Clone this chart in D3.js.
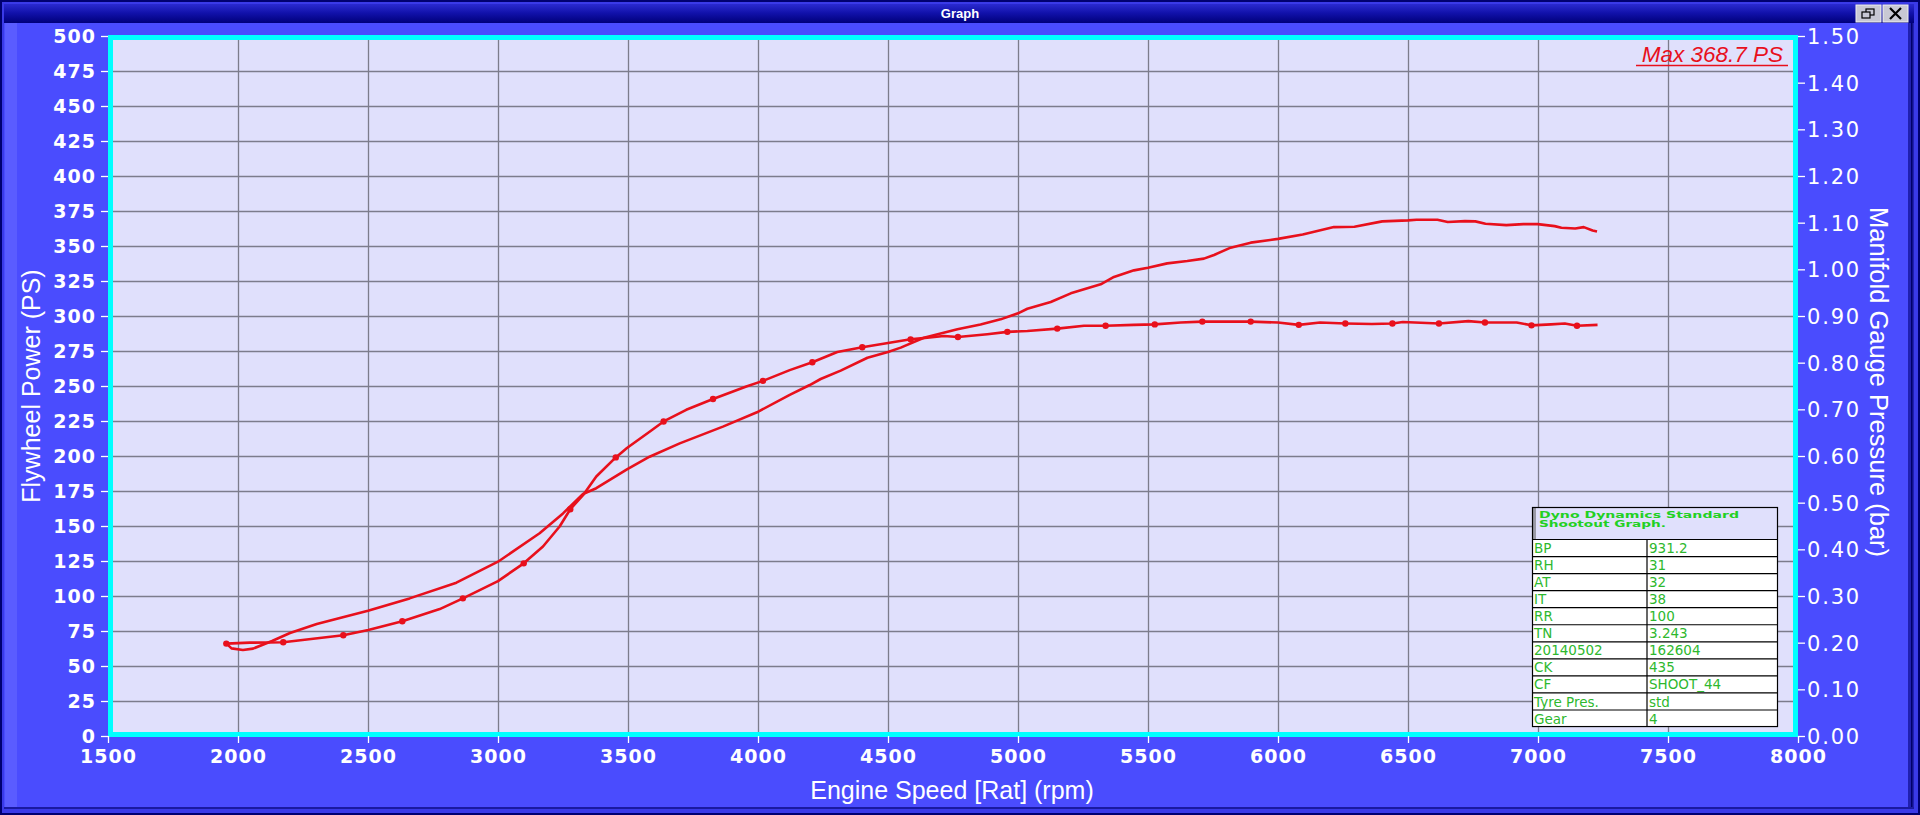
<!DOCTYPE html>
<html>
<head>
<meta charset="utf-8">
<script src="https://cdn.jsdelivr.net/npm/d3@7"></script>
<style>
html,body{margin:0;padding:0;background:#4a4cfe;overflow:hidden;}
svg{display:block;}
</style>
</head>
<body>
<svg id="chart" width="1920" height="815"></svg>
<script>
// ---------- data ----------
const rpmTicks = [1500, 2000, 2500, 3000, 3500, 4000, 4500, 5000, 5500, 6000, 6500, 7000, 7500, 8000];
const psTicks = [0, 25, 50, 75, 100, 125, 150, 175, 200, 225, 250, 275, 300, 325, 350, 375, 400, 425, 450, 475, 500];
const barTicks = [0.0, 0.1, 0.2, 0.3, 0.4, 0.5, 0.6, 0.7, 0.8, 0.9, 1.0, 1.1, 1.2, 1.3, 1.4, 1.5];

// Flywheel power (PS) vs engine speed (rpm)
const powerRpm = [1955, 1975, 2019, 2058, 2131, 2200, 2303, 2392, 2500, 2660, 2840, 3000, 3160, 3250, 3327, 3378, 3496, 3583, 3699, 3865, 3996, 4122, 4199, 4241, 4318, 4421, 4500, 4549, 4638, 4767, 4856, 4933, 5000, 5036, 5126, 5203, 5318, 5369, 5446, 5500, 5574, 5651, 5715, 5754, 5818, 5895, 6000, 6095, 6215, 6294, 6401, 6500, 6533, 6613, 6653, 6719, 6759, 6798, 6878, 6944, 6999, 7064, 7090, 7143, 7176, 7210, 7227];
const powerPS = [66.2, 62.6, 61.4, 62.4, 67.9, 73.6, 80.0, 84.3, 89.5, 98.3, 109.5, 124.5, 144.8, 159.0, 172.9, 177.0, 190.5, 199.5, 209.0, 221.0, 231.2, 243.6, 250.7, 255.0, 261.0, 270.2, 274.3, 277.4, 284.5, 290.5, 294.0, 297.6, 301.9, 305.2, 310.0, 316.2, 322.6, 327.9, 332.6, 334.5, 337.6, 339.3, 341.0, 343.6, 348.8, 352.4, 355.1, 358.2, 363.5, 363.7, 367.6, 368.3, 368.7, 368.7, 367.1, 367.8, 367.6, 365.9, 364.9, 365.6, 365.6, 364.2, 363.0, 362.5, 363.5, 361.1, 360.4];

// Manifold gauge pressure (bar) vs engine speed (rpm)
const boostRpm = [1955, 2046, 2174, 2405, 2501, 2632, 2776, 2865, 3000, 3099, 3173, 3237, 3278, 3327, 3378, 3453, 3496, 3583, 3637, 3724, 3827, 3955, 4019, 4122, 4209, 4305, 4401, 4500, 4587, 4715, 4769, 4882, 4959, 5036, 5151, 5254, 5337, 5446, 5526, 5626, 5709, 5895, 6000, 6080, 6162, 6259, 6361, 6440, 6480, 6619, 6732, 6796, 6918, 6975, 7050, 7103, 7150, 7229];
const boostBar = [0.198, 0.200, 0.201, 0.216, 0.227, 0.246, 0.272, 0.295, 0.332, 0.370, 0.406, 0.449, 0.486, 0.516, 0.556, 0.597, 0.617, 0.652, 0.674, 0.699, 0.722, 0.749, 0.761, 0.784, 0.801, 0.823, 0.833, 0.842, 0.850, 0.857, 0.855, 0.861, 0.866, 0.868, 0.873, 0.879, 0.879, 0.881, 0.882, 0.886, 0.888, 0.888, 0.886, 0.881, 0.886, 0.884, 0.883, 0.884, 0.887, 0.884, 0.889, 0.886, 0.886, 0.880, 0.882, 0.884, 0.879, 0.881];
// sample markers on the pressure trace
const markRpm = [1955, 2174, 2405, 2632, 2865, 3099, 3278, 3453, 3637, 3827, 4019, 4209, 4401, 4587, 4769, 4959, 5151, 5337, 5526, 5709, 5895, 6080, 6259, 6440, 6619, 6796, 6975, 7150];
const markBar = [0.198, 0.201, 0.216, 0.246, 0.295, 0.370, 0.486, 0.597, 0.674, 0.722, 0.761, 0.801, 0.833, 0.850, 0.855, 0.866, 0.873, 0.879, 0.882, 0.888, 0.888, 0.881, 0.884, 0.884, 0.884, 0.886, 0.880, 0.879];

const maxLabel = "Max 368.7 PS";
const tableTitle = ["Dyno Dynamics Standard", "Shootout Graph."];
const tableKeys = ["BP", "RH", "AT", "IT", "RR", "TN", "20140502", "CK", "CF", "Tyre Pres.", "Gear"];
const tableVals = ["931.2", "31", "32", "38", "100", "3.243", "162604", "435", "SHOOT_44", "std", "4"];

// ---------- layout ----------
const W = 1920, H = 815;
const L = 108, R = 1798, T = 36, B = 736;
const svg = d3.select("#chart");

const x = d3.scaleLinear().domain([1500, 8000]).range([L, R]);
const yPS = d3.scaleLinear().domain([0, 500]).range([B, T]);
const yBar = d3.scaleLinear().domain([0, 1.5]).range([B, T]);

// window chrome
const defs = svg.append("defs");
const tg = defs.append("linearGradient").attr("id","tbar").attr("x1",0).attr("y1",0).attr("x2",0).attr("y2",1);
tg.append("stop").attr("offset","0").attr("stop-color","#2a2ad0");
tg.append("stop").attr("offset","0.5").attr("stop-color","#1010a8");
tg.append("stop").attr("offset","1").attr("stop-color","#00007a");

svg.append("rect").attr("x",0).attr("y",0).attr("width",W).attr("height",H).attr("fill","#000070");
svg.append("rect").attr("x",2).attr("y",2).attr("width",W-4).attr("height",H-4).attr("fill","#3a3ae8");
svg.append("rect").attr("x",4).attr("y",4).attr("width",W-10).attr("height",H-10).attr("fill","#4a4cfe");
svg.append("rect").attr("x",4).attr("y",4).attr("width",W-10).attr("height",19).attr("fill","url(#tbar)");
svg.append("rect").attr("x",5).attr("y",23).attr("width",12).attr("height",H-30).attr("fill","#5a5cff");
svg.append("rect").attr("x",W-12).attr("y",23).attr("width",6).attr("height",H-29).attr("fill","#2020b0");
svg.append("rect").attr("x",W-9).attr("y",23).attr("width",1.5).attr("height",H-29).attr("fill","#00006a");
svg.append("rect").attr("x",4).attr("y",H-8).attr("width",W-10).attr("height",2).attr("fill","#1a1aa0");
svg.append("text").attr("x",W/2).attr("y",18).attr("text-anchor","middle")
  .attr("font-family","Liberation Sans, Arial, sans-serif").attr("font-weight","bold").attr("font-size",13)
  .attr("fill","#ffffff").text("Graph");
// title bar buttons
[[1856,"restore"],[1883,"close"]].forEach(([bx,k]) => {
  const g = svg.append("g").attr("transform",`translate(${bx},5)`);
  g.append("rect").attr("width",25).attr("height",17).attr("fill","#c8c8d4").attr("stroke","#f0f0f0").attr("stroke-width",1);
  if (k === "close") {
    g.append("path").attr("d","M7,3 L18,14 M18,3 L7,14").attr("stroke","#000").attr("stroke-width",2.2);
  } else {
    g.append("rect").attr("x",10).attr("y",4).attr("width",8).attr("height",6).attr("fill","none").attr("stroke","#000").attr("stroke-width",1.2);
    g.append("rect").attr("x",6).attr("y",7).attr("width",8).attr("height",6).attr("fill","#c8c8d4").attr("stroke","#000").attr("stroke-width",1.2);
  }
});

// plot background
svg.append("rect").attr("x",L).attr("y",T).attr("width",R-L).attr("height",B-T).attr("fill","#e0e0fc");

// grid
const grid = svg.append("g").attr("stroke","#7c7c8c").attr("stroke-width",1.3);
rpmTicks.slice(1,-1).forEach(v => grid.append("line").attr("x1",x(v)+0.5).attr("x2",x(v)+0.5).attr("y1",T).attr("y2",B));
psTicks.slice(1,-1).forEach(v => grid.append("line").attr("x1",L).attr("x2",R).attr("y1",yPS(v)+0.5).attr("y2",yPS(v)+0.5));

// info table
const tb = svg.append("g");
const tx0 = 1532, tx1 = 1778, tmid = 1647, ty0 = 507, thead = 539.5, rowH = 17.05;
tb.append("rect").attr("x",tx0).attr("y",ty0).attr("width",tx1-tx0).attr("height",thead-ty0).attr("fill","#e0e0fc");
tb.append("rect").attr("x",tx0).attr("y",ty0).attr("width",4).attr("height",thead-ty0).attr("fill","#9a9aa6");
tb.append("rect").attr("x",tx0).attr("y",thead).attr("width",tx1-tx0).attr("height",rowH*tableKeys.length).attr("fill","#ffffff");
tb.append("rect").attr("x",tx0+0.5).attr("y",ty0+0.5).attr("width",tx1-tx0-1).attr("height",thead-ty0+rowH*tableKeys.length-1)
  .attr("fill","none").attr("stroke","#000").attr("stroke-width",1.2);
tableKeys.forEach((k,i) => {
  const yy = thead + i*rowH;
  tb.append("line").attr("x1",tx0).attr("x2",tx1).attr("y1",yy).attr("y2",yy).attr("stroke","#000").attr("stroke-width",1.2);
});
tb.append("line").attr("x1",tmid).attr("x2",tmid).attr("y1",thead).attr("y2",thead+rowH*tableKeys.length).attr("stroke","#000").attr("stroke-width",1.2);
tb.selectAll("text.ttl").data(tableTitle).join("text").attr("class","ttl")
  .attr("x",1539).attr("y",(d,i)=>518+i*8.8)
  .attr("font-family","DejaVu Sans, sans-serif").attr("font-weight","bold").attr("font-size",9)
  .attr("fill","#22d022").attr("textLength",(d,i)=> i===0?200:127).attr("lengthAdjust","spacingAndGlyphs").text(d=>d);
tb.selectAll("text.k").data(tableKeys).join("text").attr("class","k")
  .attr("x",tx0+2).attr("y",(d,i)=>thead+(i+1)*rowH-3.5)
  .attr("font-family","DejaVu Sans, sans-serif").attr("font-size",13.5).attr("fill","#2eb82e").text(d=>d);
tb.selectAll("text.v").data(tableVals).join("text").attr("class","v")
  .attr("x",tmid+2).attr("y",(d,i)=>thead+(i+1)*rowH-3.5)
  .attr("font-family","DejaVu Sans, sans-serif").attr("font-size",13.5).attr("fill","#2eb82e").text(d=>d);

// curves
const red = "#e8101c";
const powerData = powerRpm.map((r,i)=>[r,powerPS[i]]);
const boostData = boostRpm.map((r,i)=>[r,boostBar[i]]);
svg.append("path").datum(powerData)
  .attr("d", d3.line().x(d=>x(d[0])).y(d=>yPS(d[1])))
  .attr("fill","none").attr("stroke",red).attr("stroke-width",2.6).attr("stroke-linejoin","round");
svg.append("path").datum(boostData)
  .attr("d", d3.line().x(d=>x(d[0])).y(d=>yBar(d[1])))
  .attr("fill","none").attr("stroke",red).attr("stroke-width",2.6).attr("stroke-linejoin","round");
svg.append("g").selectAll("circle").data(markRpm.map((r,i)=>[r,markBar[i]])).join("circle")
  .attr("cx",d=>x(d[0])).attr("cy",d=>yBar(d[1])).attr("r",3.2).attr("fill",red);

// cyan frame
svg.append("rect").attr("x",L+2.5).attr("y",T+1.5).attr("width",R-L-5).attr("height",B-T-3)
  .attr("fill","none").attr("stroke","#00ffff").attr("stroke-width",5);

// axes
const white = "#ffffff";
const axL = svg.append("g").attr("transform",`translate(${L},0)`)
  .call(d3.axisLeft(yPS).tickValues(psTicks).tickSize(7).tickPadding(5).tickFormat(d3.format("d")));
const axB = svg.append("g").attr("transform",`translate(0,${B})`)
  .call(d3.axisBottom(x).tickValues(rpmTicks).tickSize(7).tickPadding(6).tickFormat(d3.format("d")));
const axR = svg.append("g").attr("transform",`translate(${R},0)`)
  .call(d3.axisRight(yBar).tickValues(barTicks).tickSize(7).tickPadding(2).tickFormat(d3.format(".2f")));
[axL,axB,axR].forEach(a => {
  a.select(".domain").remove();
  a.selectAll(".tick line").attr("stroke",white).attr("stroke-width",1.3);
  a.selectAll(".tick text").attr("fill",white).attr("font-family","DejaVu Sans, sans-serif");
});
axL.selectAll(".tick text").attr("font-size",19).attr("font-weight","bold").attr("letter-spacing",1).attr("dy","0.36em");
axB.selectAll(".tick text").attr("font-size",19).attr("font-weight","bold").attr("letter-spacing",1).attr("dy","0.75em");
axR.selectAll(".tick text").attr("font-size",21).attr("letter-spacing",1.8).attr("dy","0.36em");

// axis titles
const tf = "Liberation Sans, Arial, sans-serif";
svg.append("text").attr("transform",`translate(40,386) rotate(-90)`).attr("text-anchor","middle")
  .attr("font-family",tf).attr("font-size",25).attr("fill",white).text("Flywheel Power (PS)");
svg.append("text").attr("transform",`translate(1870,382) rotate(90)`).attr("text-anchor","middle")
  .attr("font-family",tf).attr("font-size",25.5).attr("fill",white).text("Manifold Gauge Pressure (bar)");
svg.append("text").attr("x",952).attr("y",799).attr("text-anchor","middle")
  .attr("font-family",tf).attr("font-size",25).attr("fill",white).text("Engine Speed [Rat] (rpm)");

// max label
svg.append("text").attr("x",1783).attr("y",62).attr("text-anchor","end")
  .attr("font-family",tf).attr("font-style","italic").attr("font-size",22.5).attr("fill","#e8101c").text(maxLabel);
svg.append("line").attr("x1",1636).attr("x2",1788).attr("y1",65.5).attr("y2",65.5).attr("stroke","#e8101c").attr("stroke-width",1.6);
</script>
</body>
</html>
